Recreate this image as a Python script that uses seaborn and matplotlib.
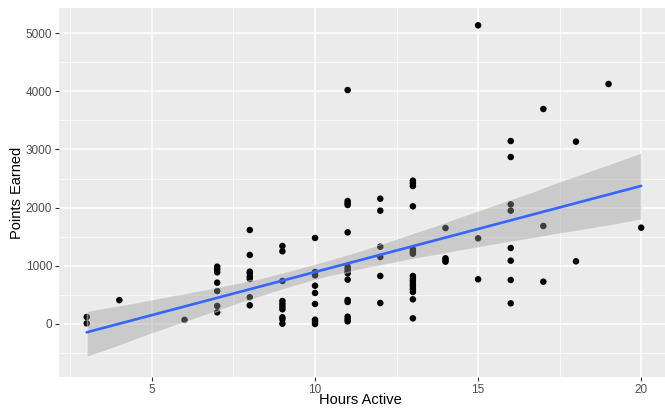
import matplotlib
matplotlib.use("Agg")
import matplotlib.pyplot as plt
from matplotlib.ticker import MultipleLocator
import pandas as pd
import seaborn as sns

# hours active per person (one entry per point)
hours = (
    [3] * 2 + [4] + [6] + [7] * 7 + [8] * 8 + [9] * 10 + [10] * 9
    + [11] * 15 + [12] * 6 + [13] * 16 + [14] * 4 + [15] * 3 + [16] * 8
    + [17] * 3 + [18] * 2 + [19] + [20]
)
points = [
    120, 10,
    410,
    70,
    985, 940, 888, 710, 567, 309, 200,
    1615, 1186, 899, 871, 813, 773, 459, 321,
    1340, 1249, 739, 395, 344, 297, 253, 115, 81, 5,
    1478, 893, 836, 658, 533, 344, 74, 40, 0,
    4020, 2113, 2074, 2045, 1575, 985, 940, 899, 871, 762, 412, 378, 125, 81, 46,
    2153, 1947, 1328, 1151, 825, 361,
    2463, 2417, 2371, 2022, 1283, 1242, 1208, 825, 779, 739, 693, 648, 596, 550, 424, 97,
    1649, 1129, 1100, 1071,
    5132, 1472, 768,
    3144, 2869, 2056, 1947, 1306, 1088, 756, 355,
    3694, 1684, 727,
    3133, 1077,
    4124,
    1655,
]
x_ticks = [5, 10, 15, 20]
y_ticks = [0, 1000, 2000, 3000, 4000, 5000]

df = pd.DataFrame({"Hours Active": hours, "Points Earned": points})

sns.set_theme(style="darkgrid", rc={
    "axes.facecolor": "#EBEBEB",
    "grid.color": "white",
    "axes.edgecolor": "#EBEBEB",
})
plt.rcParams["font.family"] = ["Liberation Sans", "DejaVu Sans"]

fig = plt.figure(figsize=(6.65, 4.11), dpi=100)
ax = fig.add_axes([59 / 665, 34 / 411, 1 - 59 / 665, 369 / 411])

sns.scatterplot(data=df, x="Hours Active", y="Points Earned", ax=ax,
                color="black", s=22, edgecolor="none", linewidth=0, zorder=3)
sns.regplot(data=df, x="Hours Active", y="Points Earned", ax=ax, scatter=False,
            ci=95, seed=0, line_kws={"color": "#3366FF", "linewidth": 1.9, "zorder": 5})

# ggplot-style grey confidence band
band = ax.collections[-1]
band.set_facecolor("#999999")
band.set_alpha(0.4)
band.set_zorder(4)

ax.set_xlim(2.15, 20.73)
ax.set_ylim(-911, 5430)
ax.set_xticks(x_ticks)
ax.set_yticks(y_ticks)
ax.xaxis.set_minor_locator(MultipleLocator(2.5))
ax.yaxis.set_minor_locator(MultipleLocator(500))
ax.grid(True, which="major", color="white", linewidth=1.1)
ax.grid(True, which="minor", color="white", linewidth=0.5)
ax.tick_params(which="major", length=3, width=0.8, color="#333333",
               labelsize=8.5, labelcolor="#4D4D4D", pad=2, bottom=True, left=True)
ax.tick_params(which="minor", length=0)
for s in ax.spines.values():
    s.set_visible(False)
ax.set_xlabel("Hours Active", fontsize=10.5, color="black", va="center")
ax.set_ylabel("Points Earned", fontsize=10.5, color="black", va="center")
ax.xaxis.set_label_coords(0.498, -23 / 369)
ax.yaxis.set_label_coords(-42 / 606, 0.5)

fig.savefig("out.png", dpi=100)
